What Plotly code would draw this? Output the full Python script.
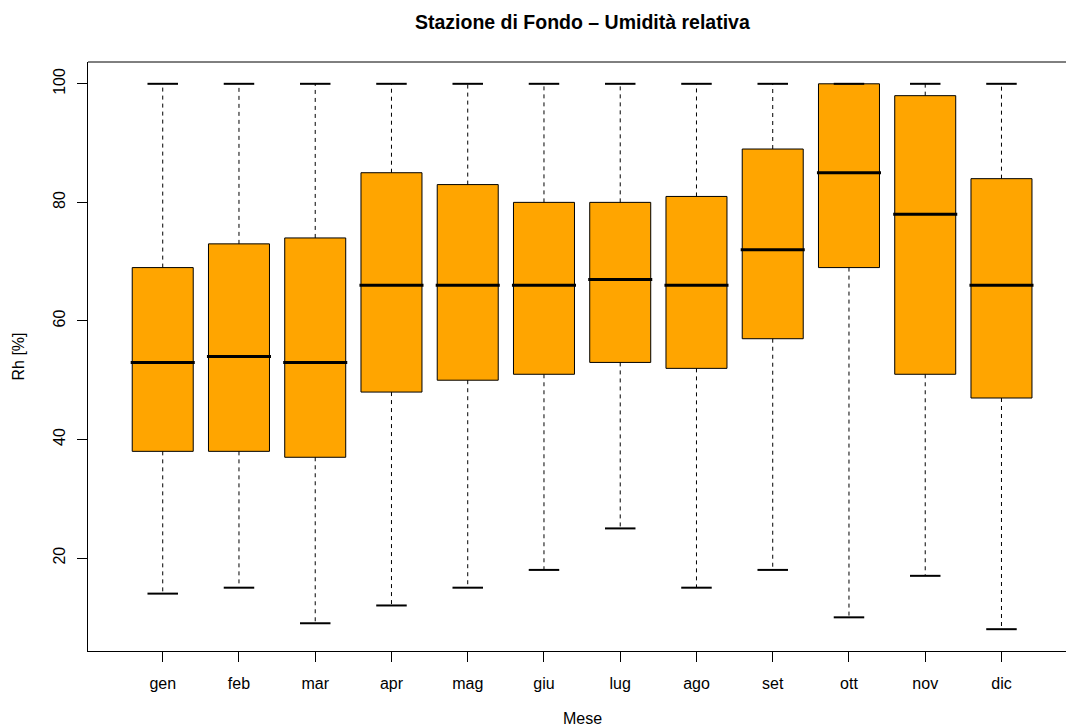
import plotly.graph_objects as go

months = ["gen", "feb", "mar", "apr", "mag", "giu", "lug", "ago", "set", "ott", "nov", "dic"]
whisk_low = [14, 15, 9, 12, 15, 18, 25, 15, 18, 10, 17, 8]
q1 = [38, 38, 37, 48, 50, 51, 53, 52, 57, 69, 51, 47]
median = [53, 54, 53, 66, 66, 66, 67, 66, 72, 85, 78, 66]
q3 = [69, 73, 74, 85, 83, 80, 80, 81, 89, 100, 98, 84]
whisk_high = [100, 100, 100, 100, 100, 100, 100, 100, 100, 100, 100, 100]
y_ticks = [20, 40, 60, 80, 100]

pos = list(range(1, len(months) + 1))
BOXW = 0.8
CAPW = 0.4
FONT = "Liberation Sans, Arial, Helvetica, sans-serif"


def segs(xs0, xs1, ys0, ys1):
    X, Y = [], []
    for a, b, c, d in zip(xs0, xs1, ys0, ys1):
        X += [a, b, None]
        Y += [c, d, None]
    return X, Y


fig = go.Figure()

# whiskers (dashed)
wx, wy = segs(pos + pos, pos + pos, q3 + q1, whisk_high + whisk_low)
fig.add_trace(go.Scatter(x=wx, y=wy, mode="lines",
                         line=dict(color="black", width=1, dash="4px,4px"),
                         hoverinfo="skip"))

# boxes
fig.add_trace(go.Bar(x=pos, base=q1, y=[b - a for a, b in zip(q1, q3)],
                     width=BOXW, marker=dict(color="#FFA500",
                                             line=dict(color="black", width=1)),
                     hoverinfo="skip"))

# medians
mx, my = segs([p - BOXW / 2 - 0.02 for p in pos], [p + BOXW / 2 + 0.02 for p in pos],
              median, median)
fig.add_trace(go.Scatter(x=mx, y=my, mode="lines",
                         line=dict(color="black", width=3), hoverinfo="skip"))

# caps
cx, cy = segs([p - CAPW / 2 for p in pos] * 2, [p + CAPW / 2 for p in pos] * 2,
              whisk_high + whisk_low, whisk_high + whisk_low)
fig.add_trace(go.Scatter(x=cx, y=cy, mode="lines",
                         line=dict(color="black", width=2), hoverinfo="skip"))

fig.update_layout(
    width=1066, height=728,
    margin=dict(l=88, r=0, t=62, b=77, pad=0),
    plot_bgcolor="white", paper_bgcolor="white",
    showlegend=False,
    font=dict(family=FONT, size=16, color="black"),
    xaxis=dict(range=[0.02, 0.02 + 978 / 76.25], tickmode="array",
               tickvals=pos, ticktext=months, ticks="outside", ticklen=10,
               tickcolor="black", showline=True, linecolor="black", linewidth=1,
               showgrid=False, zeroline=False, ticklabelstandoff=8),
    yaxis=dict(range=[4.32, 103.68], tickmode="array", tickvals=y_ticks,
               ticktext=[str(v) for v in y_ticks], ticks="outside", ticklen=10,
               tickcolor="black", showline=True, linecolor="black", linewidth=1,
               showgrid=False, zeroline=False, tickangle=-90,
               ticklabelstandoff=6),
    shapes=[dict(type="line", xref="paper", yref="paper", x0=0, x1=1, y0=1, y1=1,
                 line=dict(color="black", width=1))],
    annotations=[
        dict(text="<b>Stazione di Fondo – Umidità relativa</b>", xref="x", x=6.5,
             yref="paper", y=1, yshift=40, showarrow=False, yanchor="middle",
             font=dict(size=19.5, family=FONT)),
        dict(text="Rh [%]", xref="paper", x=0, xshift=-70, yref="paper", y=0.5,
             textangle=-90, showarrow=False, xanchor="center", yanchor="middle",
             font=dict(size=16, family=FONT)),
        dict(text="Mese", xref="x", x=6.5, yref="paper", y=0, yshift=-67,
             showarrow=False, yanchor="middle", font=dict(size=16, family=FONT)),
    ],
)

fig.write_html("out.html",
               config={"displayModeBar": False},
               post_script="document.body.style.margin='0';"
                           "document.body.style.overflow='hidden';")
